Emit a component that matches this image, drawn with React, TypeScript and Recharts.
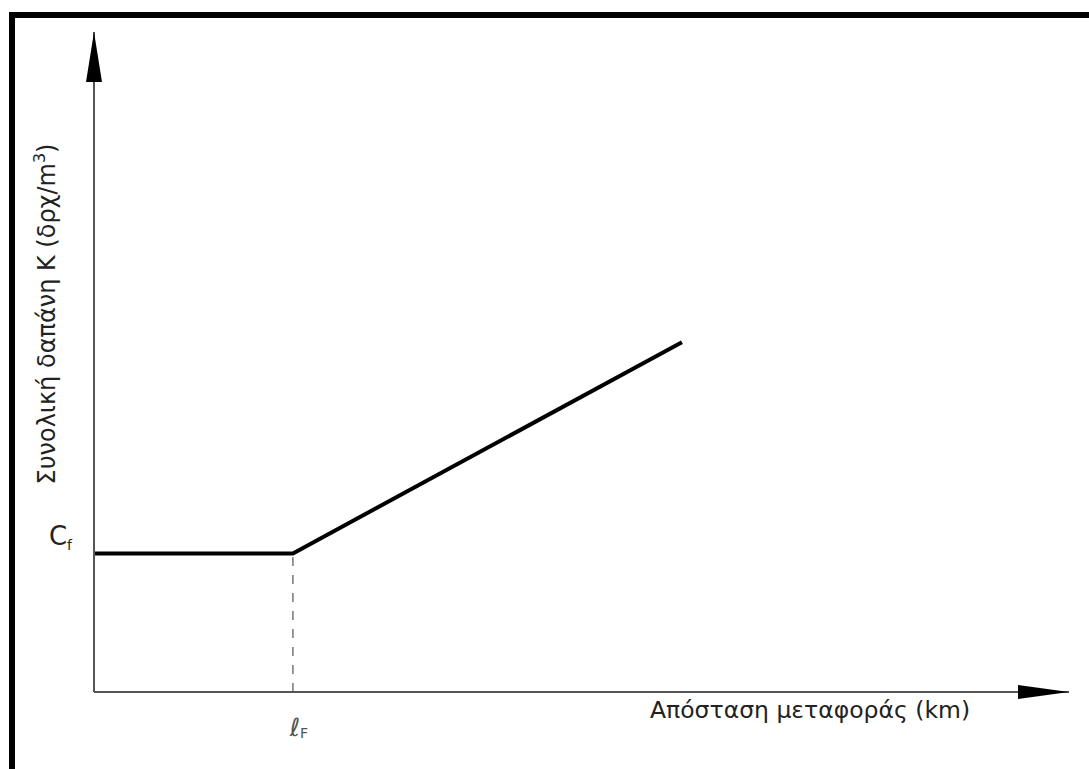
import React from 'react';
import { LineChart, Line, XAxis, YAxis, ReferenceLine, ReferenceDot } from 'recharts';

const distances = [0, 20.4, 60.3];
const costs = [21, 21, 53];
const xTicks = [20.4];
const yTicks = [21];
const xTitle = 'Απόσταση μεταφοράς (km)';
const yTitle = 'Συνολική δαπάνη Κ (δρχ/m';

const data = distances.map((x, i) => ({ x, y: costs[i] }));

const FONT = 'DejaVu Sans, sans-serif';

const YTick = (props: any) => {
  const { x, y } = props;
  return (
    <text x={x - 14} y={y - 8} textAnchor="end" fontFamily={FONT} fontSize={26} fill="#222">
      C<tspan fontSize={14} dy={5}>f</tspan>
    </text>
  );
};

const XTick = (props: any) => {
  const { x, y } = props;
  return (
    <text x={x + 6} y={y + 36} textAnchor="middle" fontFamily={FONT} fontSize={25} fill="#555">
      ℓ<tspan fontSize={14} dy={2}>F</tspan>
    </text>
  );
};

const UpArrow = (p: any) => {
  const { cx, cy } = p;
  return <path d={`M${cx},${cy} L${cx - 8},${cy + 50} L${cx + 8},${cy + 50} Z`} fill="#000" />;
};

const RightArrow = (p: any) => {
  const { cx, cy } = p;
  return <path d={`M${cx},${cy} L${cx - 51},${cy - 7} L${cx - 51},${cy + 7} Z`} fill="#000" />;
};

export default function App() {
  return (
    <div style={{ position: 'absolute', left: 0, top: 0, width: 1089, height: 769, background: '#fff' }}>
      <div
        style={{
          position: 'absolute',
          left: 9,
          top: 12,
          width: 1080,
          height: 757,
          borderTop: '6px solid #000',
          borderLeft: '6px solid #000',
        }}
      />
      <div style={{ position: 'absolute', left: 0, top: 0 }}>
        <LineChart width={1089} height={769} data={data} margin={{ top: 32, right: 20, bottom: 17, left: 34 }}>
          <XAxis
            type="number"
            dataKey="x"
            domain={[0, 100]}
            ticks={xTicks}
            tick={<XTick />}
            tickLine={false}
            axisLine={{ stroke: '#555', strokeWidth: 2 }}
            height={60}
            label={{
              value: xTitle,
              position: 'insideBottomRight',
              offset: 0,
              content: (lp: any) => {
                const vb = lp.viewBox;
                return (
                  <text x={vb.x + 556} y={vb.y + 26} fontFamily={FONT} fontSize={23.5} fill="#222">
                    {xTitle}
                  </text>
                );
              },
            }}
          />
          <YAxis
            type="number"
            domain={[0, 100]}
            ticks={yTicks}
            tick={<YTick />}
            tickLine={false}
            axisLine={{ stroke: '#555', strokeWidth: 2 }}
            width={60}
            label={{
              value: yTitle,
              position: 'insideLeft',
              content: (lp: any) => {
                const vb = lp.viewBox;
                const cx = 55;
                const cy = vb.y + vb.height / 2 - 48;
                return (
                  <text
                    x={cx}
                    y={cy}
                    textAnchor="middle"
                    transform={`rotate(-90, ${cx}, ${cy})`}
                    fontFamily={FONT}
                    fontSize={24}
                    fill="#222"
                  >
                    {yTitle}
                    <tspan fontSize={16} dy={-10}>3</tspan>
                    <tspan dy={10}>)</tspan>
                  </text>
                );
              },
            }}
          />
          <ReferenceLine
            segment={[
              { x: xTicks[0], y: 0 },
              { x: xTicks[0], y: costs[1] },
            ]}
            stroke="#777"
            strokeWidth={1.5}
            strokeDasharray="9 9"
          />
          <Line
            type="linear"
            dataKey="y"
            stroke="#000"
            strokeWidth={4}
            dot={false}
            isAnimationActive={false}
          />
          <ReferenceDot x={0} y={100} r={0} shape={<UpArrow />} ifOverflow="visible" />
          <ReferenceDot x={100} y={0} r={0} shape={<RightArrow />} ifOverflow="visible" />
        </LineChart>
      </div>
    </div>
  );
}
